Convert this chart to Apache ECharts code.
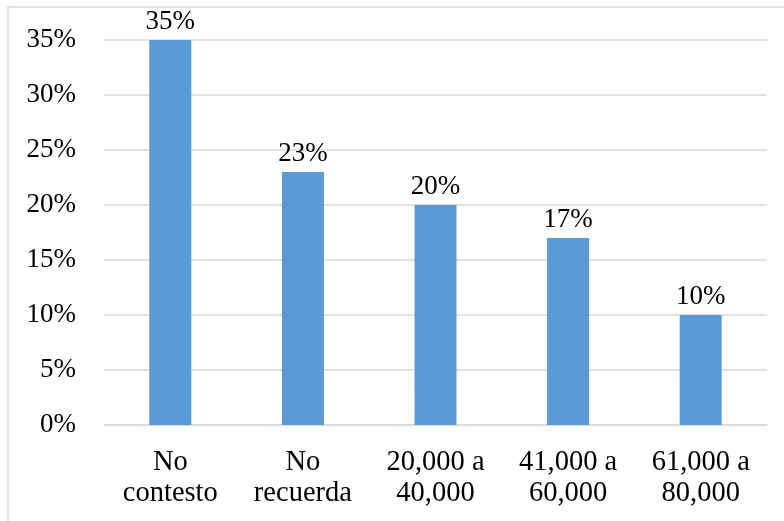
<!DOCTYPE html>
<html>
<head>
<meta charset="utf-8">
<script src="https://cdn.jsdelivr.net/npm/echarts@6/dist/echarts.min.js"></script>
<style>
  html, body { margin: 0; padding: 0; background: #fff; }
  #chart { width: 784px; height: 521px; }
</style>
</head>
<body>
<div id="chart"></div>
<script>
// Income ranges reported by respondents
const categories = ['No\ncontesto', 'No\nrecuerda', '20,000 a\n40,000', '41,000 a\n60,000', '61,000 a\n80,000'];
const shares = [35, 23, 20, 17, 10];
const yTicks = [0, 5, 10, 15, 20, 25, 30, 35];

const serif = '"Liberation Serif", "Times New Roman", serif';
const chart = echarts.init(document.getElementById('chart'));

chart.setOption({
  backgroundColor: '#ffffff',
  animation: false,
  graphic: [{
    type: 'rect',
    shape: { x: 8, y: 7, width: 800, height: 540 },
    style: { fill: 'none', stroke: '#d9d9d9', lineWidth: 1.5 },
    silent: true
  }],
  grid: { left: 104, right: 17, top: 40, bottom: 96 },
  xAxis: {
    type: 'category',
    data: categories,
    axisTick: { show: false },
    axisLine: { lineStyle: { color: '#d9d9d9', width: 1.5 } },
    axisLabel: {
      color: '#000',
      fontFamily: serif,
      fontSize: 28.5,
      lineHeight: 31,
      margin: 22,
      interval: 0
    }
  },
  yAxis: {
    type: 'value',
    min: yTicks[0],
    max: yTicks[yTicks.length - 1],
    interval: 5,
    axisLine: { show: false },
    axisTick: { show: false },
    splitLine: { lineStyle: { color: '#d9d9d9', width: 1.5 } },
    axisLabel: {
      color: '#000',
      fontFamily: serif,
      fontSize: 27,
      margin: 28,
      formatter: v => v + '%'
    }
  },
  series: [{
    type: 'bar',
    data: shares,
    barWidth: '31.7%',
    itemStyle: { color: '#5b9bd5' },
    label: {
      show: true,
      position: 'top',
      distance: 5,
      color: '#000',
      fontFamily: serif,
      fontSize: 27,
      formatter: p => p.value + '%'
    }
  }]
});
</script>
</body>
</html>
